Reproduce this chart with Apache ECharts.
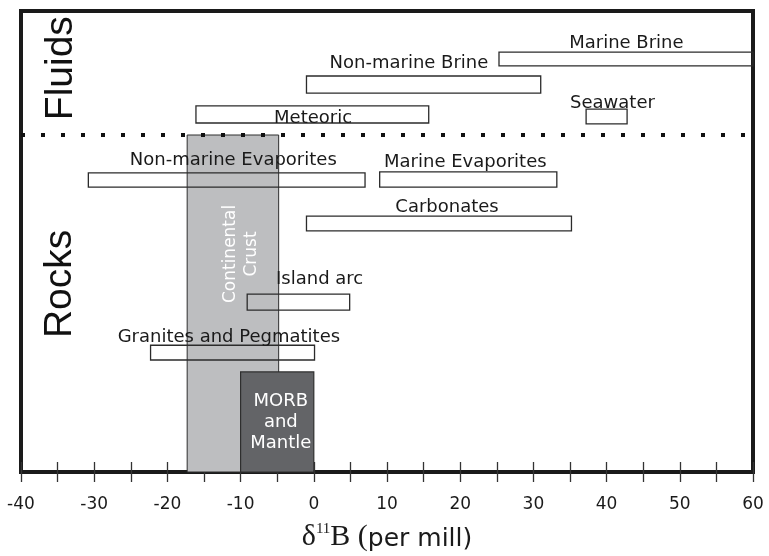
<!DOCTYPE html>
<html>
<head>
<meta charset="utf-8">
<script src="https://cdn.jsdelivr.net/npm/echarts@6/dist/echarts.min.js"></script>
<style>html,body{margin:0;padding:0;background:#fff;}#c{width:769px;height:556px;}</style>
</head>
<body>
<div id="c"></div>
<script>
// Boron isotope ranges (delta 11B, per mill)
const categories = ['Marine Brine','Non-marine Brine','Meteoric','Seawater','Non-marine Evaporites','Marine Evaporites','Carbonates','Island arc','Granites and Pegmatites'];
const rangeMin = [25.3, -1.0, -16.1, 37.2, -30.8, 9.0, -1.0, -9.1, -22.3];
const rangeMax = [60.0, 31.0, 15.7, 42.8, 7.0, 33.2, 35.2, 4.9, 0.1];
const rowTop = [91.1, 85.9, 79.4, 78.7, 64.9, 65.1, 55.5, 38.6, 27.5];
const rowBottom = [88.1, 82.2, 75.7, 75.5, 61.8, 61.8, 52.3, 35.1, 24.3];
const labelX = [42.7, 13.0, -0.1, 40.8, -11.0, 20.7, 18.2, 0.8, -11.6];
const labelY = [93.0, 88.6, 76.7, 79.9, 67.7, 67.2, 57.5, 41.7, 29.3];

// Shaded reservoirs
const crustRange = [-17.3, -4.8, 0, 73.1];
const crustLabel = ['Continental\nCrust', -9.9, 47.3];
const morbRange = [-10.0, 0.0, 0, 21.7];
const morbLabel = ['MORB\nand\nMantle', -4.5, 10.8];

// Fluids / Rocks divider and group labels
const dividerY = 73.1;
const groupNames = ['Fluids', 'Rocks'];
const groupX = [-34.5, -34.6];
const groupY = [87.6, 40.8];

const xTicks = { min: -40, max: 60, interval: 5 };

const boxData = categories.map((c, i) => [rangeMin[i], rangeMax[i], rowBottom[i], rowTop[i]]);

function rectRender(fill, stroke, lw) {
  return function (params, api) {
    const p0 = api.coord([api.value(0), api.value(3)]);
    const p1 = api.coord([api.value(1), api.value(2)]);
    return {
      type: 'rect',
      shape: { x: p0[0], y: p0[1], width: p1[0] - p0[0], height: p1[1] - p0[1] },
      style: { fill: fill, stroke: stroke, lineWidth: lw }
    };
  };
}

const SANS = 'DejaVu Sans';
const chart = echarts.init(document.getElementById('c'));
chart.setOption({
  animation: false,
  backgroundColor: '#fff',
  grid: { show: true, left: 21, right: 16, top: 11, bottom: 84, containLabel: false, outerBoundsMode: 'none',
          borderColor: '#1a1a1a', borderWidth: 4, backgroundColor: 'transparent' },
  xAxis: [
    {
      type: 'value', min: xTicks.min, max: xTicks.max, interval: xTicks.interval, position: 'bottom',
      axisLine: { show: true, lineStyle: { color: '#1a1a1a', width: 4 } },
      axisTick: { show: true, inside: false, length: 10, lineStyle: { color: '#333', width: 1.3 } },
      axisLabel: {
        margin: 24, fontFamily: SANS, fontSize: 17, color: '#1a1a1a',
        formatter: v => (v % 10 === 0 ? String(v) : '')
      },
      splitLine: { show: false },
      name: '{d|δ}{s|11}{b|B (}{p|per mill)}',
      nameLocation: 'middle', nameGap: 50,
      nameTextStyle: {
        rich: {
          d: { fontFamily: 'Liberation Serif', fontSize: 30, color: '#1a1a1a', verticalAlign: 'bottom' },
          s: { fontFamily: 'Liberation Serif', fontSize: 15, color: '#1a1a1a', verticalAlign: 'top' },
          b: { fontFamily: 'Liberation Serif', fontSize: 30, color: '#1a1a1a', verticalAlign: 'bottom' },
          p: { fontFamily: SANS, fontSize: 25, color: '#1a1a1a', verticalAlign: 'bottom' }
        }
      }
    },
    {
      type: 'value', min: xTicks.min, max: xTicks.max, interval: xTicks.interval, position: 'bottom',
      axisLine: { show: false },
      axisTick: { show: true, inside: true, length: 10, lineStyle: { color: '#333', width: 1.3 } },
      axisLabel: { show: false },
      splitLine: { show: false }
    }
  ],
  yAxis: { type: 'value', min: 0, max: 100, show: false },
  series: [
    {
      type: 'custom', name: 'Continental Crust', z: 1, clip: false,
      renderItem: rectRender('#bdbec0', '#2e2e2e', 1),
      data: [crustRange]
    },
    {
      type: 'custom', name: 'ranges', z: 2, clip: false,
      renderItem: rectRender('rgba(0,0,0,0)', '#2b2b2b', 1.3),
      data: boxData
    },
    {
      type: 'custom', name: 'MORB and Mantle', z: 3, clip: false,
      renderItem: rectRender('#636467', '#2e2e2e', 1.2),
      data: [morbRange]
    },
    {
      type: 'line', name: 'divider', z: 4, symbol: 'none', silent: true,
      lineStyle: { color: '#111', width: 4, type: [4, 16], cap: 'butt' },
      data: [[xTicks.min, dividerY], [xTicks.max, dividerY]]
    },
    {
      type: 'scatter', name: 'labels', z: 5, symbolSize: 0, silent: true,
      itemStyle: { opacity: 1 },
      data: categories.map((c, i) => ({ value: [labelX[i], labelY[i]], name: c })),
      label: { show: true, position: 'inside', formatter: p => p.name, fontFamily: SANS, fontSize: 18, color: '#1a1a1a' }
    },
    {
      type: 'scatter', name: 'reservoirLabels', z: 5, symbolSize: 0, silent: true,
      itemStyle: { opacity: 1 },
      data: [
        { value: [crustLabel[1], crustLabel[2]], name: crustLabel[0], label: { rotate: 90, lineHeight: 21, fontSize: 17 } },
        { value: [morbLabel[1], morbLabel[2]], name: morbLabel[0], label: { lineHeight: 21, fontSize: 18 } }
      ],
      label: { show: true, position: 'inside', formatter: p => p.name, fontFamily: SANS, color: '#fff', align: 'center' }
    },
    {
      type: 'scatter', name: 'groups', z: 5, symbolSize: 0, silent: true,
      itemStyle: { opacity: 1 },
      data: groupNames.map((g, i) => ({ value: [groupX[i], groupY[i]], name: g })),
      label: { show: true, position: 'inside', rotate: 90, formatter: p => p.name, fontFamily: 'Liberation Sans', fontSize: 39, color: '#111' }
    }
  ]
});
</script>
</body>
</html>
